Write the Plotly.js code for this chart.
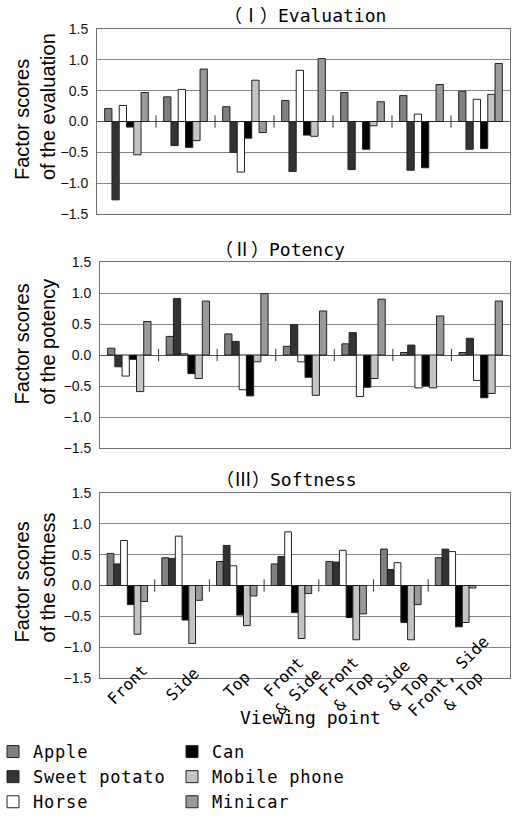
<!DOCTYPE html>
<html><head><meta charset="utf-8">
<script src="https://cdn.plot.ly/plotly-3.0.1.min.js"></script>
<style>html,body{margin:0;padding:0;background:#fff}.legendtext{letter-spacing:0.8px}</style>
</head><body><div id="chart" style="width:515px;height:818px"></div>
<script>
// ---- data ----
const categories = ['Front', 'Side', 'Top', 'Front & Side', 'Front & Top', 'Side & Top', 'Front, Side & Top'];
const tickLabels = ['Front', 'Side', 'Top', 'Front<br>& Side', 'Front<br>& Top', 'Side<br>& Top', 'Front, Side<br>& Top'];
const seriesNames = ['Apple', 'Sweet potato', 'Horse', 'Can', 'Mobile phone', 'Minicar'];
const panelTitles = ['（Ⅰ）Evaluation', '（Ⅱ）Potency', '（Ⅲ）Softness'];
const yTitles = ['Factor scores<br>of the evaluation', 'Factor scores<br>of the potency', 'Factor scores<br>of the softness'];
const xTitle = 'Viewing point';

// (I) Evaluation
const evalApple       = [0.21, 0.40, 0.24, 0.34, 0.47, 0.42, 0.49];
const evalSweetPotato = [-1.27, -0.39, -0.50, -0.81, -0.78, -0.79, -0.45];
const evalHorse       = [0.26, 0.52, -0.82, 0.83, 0.00, 0.12, 0.36];
const evalCan         = [-0.09, -0.42, -0.27, -0.22, -0.45, -0.75, -0.44];
const evalMobile      = [-0.54, -0.31, 0.67, -0.24, -0.07, 0.00, 0.44];
const evalMinicar     = [0.47, 0.85, -0.18, 1.02, 0.32, 0.60, 0.94];
// (II) Potency
const potApple        = [0.11, 0.30, 0.34, 0.14, 0.18, 0.04, 0.04];
const potSweetPotato  = [-0.19, 0.91, 0.22, 0.49, 0.36, 0.16, 0.27];
const potHorse        = [-0.34, 0.02, -0.56, -0.11, -0.67, -0.53, -0.41];
const potCan          = [-0.07, -0.30, -0.66, -0.36, -0.52, -0.50, -0.69];
const potMobile       = [-0.59, -0.38, -0.11, -0.65, -0.38, -0.53, -0.62];
const potMinicar      = [0.54, 0.87, 0.99, 0.71, 0.90, 0.63, 0.87];
// (III) Softness
const softApple       = [0.52, 0.45, 0.39, 0.35, 0.39, 0.59, 0.45];
const softSweetPotato = [0.35, 0.44, 0.65, 0.47, 0.38, 0.26, 0.59];
const softHorse       = [0.73, 0.80, 0.32, 0.87, 0.57, 0.37, 0.55];
const softCan         = [-0.31, -0.56, -0.48, -0.44, -0.52, -0.60, -0.67];
const softMobile      = [-0.79, -0.94, -0.65, -0.86, -0.88, -0.88, -0.60];
const softMinicar     = [-0.26, -0.24, -0.17, -0.13, -0.46, -0.31, -0.04];

const panels = [
  [evalApple, evalSweetPotato, evalHorse, evalCan, evalMobile, evalMinicar],
  [potApple, potSweetPotato, potHorse, potCan, potMobile, potMinicar],
  [softApple, softSweetPotato, softHorse, softCan, softMobile, softMinicar]
];

// ---- style ----
const colors = ['#808080', '#333333', '#ffffff', '#000000', '#c4c4c4', '#9a9a9a'];
const legendRanks = [1, 3, 5, 2, 4, 6];
const W = 515, H = 818, ML = 97, MR = 5, MT = 29, MB = 140;
const PW = W - ML - MR, PH = H - MT - MB;
const px2x = p => (p - ML) / PW;
const px2y = p => (H - MB - p) / PH;
const gridCol = '#858585', frameCol = '#707070';
const mono = 'DejaVu Sans Mono, Noto Sans CJK JP, monospace';
const sans = 'Liberation Sans, Arial, sans-serif';
const suffixes = ['', '2', '3'];
const yDomains = [[px2y(214), 1], [px2y(448), px2y(262)], [0, px2y(493)]];
const xDomains = [[0, 1], [3 / PW, 1], [3 / PW, 1]];
const titleCenters = [[305, 15.5], [280, 249], [286, 479.5]];
const yTitleBottoms = [182, 407, 645];

const traces = [];
panels.forEach((series, p) => {
  series.forEach((vals, s) => {
    traces.push({
      type: 'bar', x: categories, y: vals, name: seriesNames[s],
      xaxis: 'x' + suffixes[p], yaxis: 'y' + suffixes[p],
      marker: { color: colors[s], line: { color: '#222', width: 1 } },
      showlegend: p === 0, legendgroup: seriesNames[s], legendrank: legendRanks[s],
      hoverinfo: 'x+y+name'
    });
  });
});

const layout = {
  width: W, height: H,
  margin: { l: ML, r: MR, t: MT, b: MB, autoexpand: false },
  paper_bgcolor: '#fff', plot_bgcolor: '#fff',
  barmode: 'group', bargap: 0.26, bargroupgap: 0,
  showlegend: true,
  legend: {
    orientation: 'h', x: px2x(-7), xanchor: 'left', y: px2y(734), yanchor: 'top',
    entrywidth: 134, entrywidthmode: 'pixels', traceorder: 'normal',
    font: { family: mono, size: 17, color: '#000' }, bgcolor: 'rgba(0,0,0,0)'
  },
  annotations: [], shapes: []
};

suffixes.forEach((sf, p) => {
  layout['xaxis' + sf] = {
    domain: xDomains[p], anchor: 'y' + sf, type: 'category',
    showticklabels: false, ticks: '', showgrid: false, zeroline: false,
    showline: true, mirror: true, linecolor: frameCol, linewidth: 1, fixedrange: true
  };
  layout['yaxis' + sf] = {
    domain: yDomains[p], anchor: 'x' + sf, range: [-1.5, 1.5], dtick: 0.5, tick0: 0,
    tickformat: '.1f', ticks: '', ticklabelstandoff: 5,
    tickfont: { family: sans, size: 14, color: '#111' },
    showgrid: true, gridcolor: gridCol, gridwidth: 1,
    zeroline: true, zerolinecolor: '#555', zerolinewidth: 1,
    showline: true, mirror: true, linecolor: frameCol, linewidth: 1, fixedrange: true
  };
  // panel title
  layout.annotations.push({
    text: panelTitles[p], xref: 'paper', yref: 'paper',
    x: px2x(titleCenters[p][0]), y: px2y(titleCenters[p][1]),
    xanchor: 'center', yanchor: 'middle', showarrow: false,
    font: { family: mono, size: 18, color: '#000' }
  });
  // y title
  layout.annotations.push({
    text: yTitles[p], xref: 'paper', yref: 'paper',
    x: px2x(34.5), y: px2y(yTitleBottoms[p]), textangle: -90, align: 'left',
    xanchor: 'center', yanchor: 'bottom', showarrow: false,
    font: { family: sans, size: 20, color: '#000' }
  });
  // category-boundary ticks on the zero line
  for (let i = 1; i < categories.length; i++) {
    layout.shapes.push({
      type: 'line', xref: 'x' + sf, yref: 'y' + sf,
      x0: i - 0.5, x1: i - 0.5, y0: -0.1, y1: 0.1,
      line: { color: '#333', width: 1 }
    });
  }
});

// rotated category labels on the bottom panel
categories.forEach((c, i) => {
  layout.annotations.push({
    text: tickLabels[i], xref: 'x3', yref: 'paper', x: c, y: px2y(684),
    textangle: -45, xanchor: 'center', yanchor: 'middle', showarrow: false,
    font: { family: mono, size: 16, color: '#000' }
  });
});
layout.annotations.push({
  text: xTitle, xref: 'paper', yref: 'paper', x: px2x(310), y: px2y(718),
  xanchor: 'center', yanchor: 'middle', showarrow: false,
  font: { family: mono, size: 18, color: '#000' }
});

Plotly.newPlot('chart', traces, layout, { displayModeBar: false, staticPlot: true });
</script></body></html>
